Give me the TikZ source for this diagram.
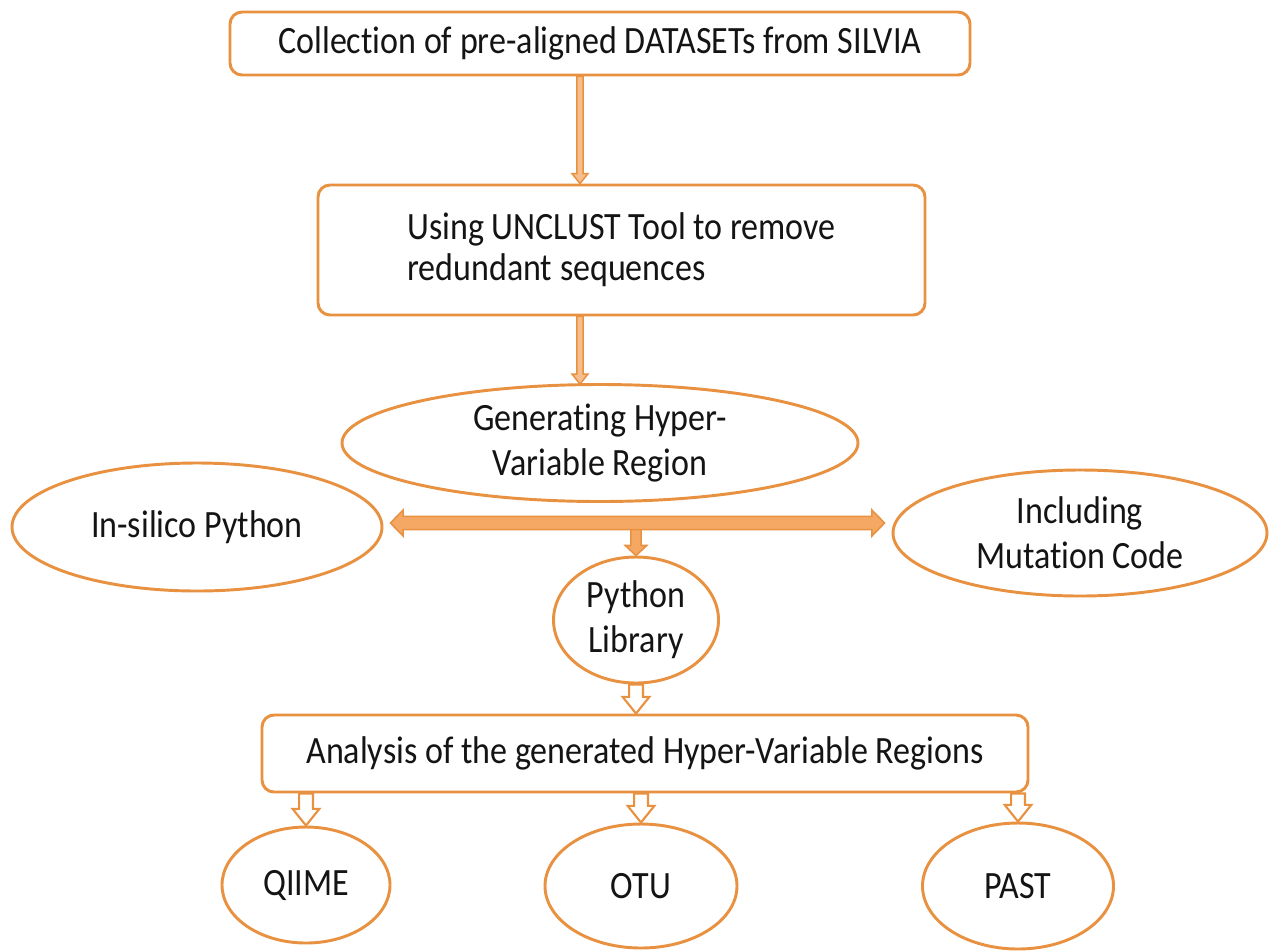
\documentclass[tikz,border=0pt]{standalone}
\usepackage{fontspec}
\setmainfont{Carlito}[FakeStretch=0.88, Ligatures=NoCommon]
\usetikzlibrary{calc,shapes.geometric}
\definecolor{orc}{RGB}{232,145,64}
\definecolor{orfill}{RGB}{245,168,100}
\definecolor{orlight}{RGB}{246,190,140}
\definecolor{txt}{RGB}{20,20,20}
\tikzset{
  box/.style={draw=orc, line width=2.2pt, rounded corners=9pt, fill=white, text=txt,
    font=\fontsize{29}{33}\selectfont, inner sep=0pt, align=center},
  ell/.style={ellipse, draw=orc, line width=2.2pt, fill=white, text=txt,
    font=\fontsize{29}{34}\selectfont, inner sep=0pt, align=center},
  downarrow/.style n args={3}{to path={let \p1=(\tikztostart),\p2=(\tikztotarget) in
    (\x1-#1,\y1) -- (\x1-#1,\y2+#3) -- (\x1-#2,\y2+#3) -- (\x1,\y2) --
    (\x1+#2,\y2+#3) -- (\x1+#1,\y2+#3) -- (\x1+#1,\y1) -- cycle}},
  hdouble/.style n args={3}{to path={let \p1=(\tikztostart),\p2=(\tikztotarget) in
    (\x1,\y1) -- (\x1+#3,\y1+#2) -- (\x1+#3,\y1+#1) -- (\x2-#3,\y1+#1) --
    (\x2-#3,\y1+#2) -- (\x2,\y1) -- (\x2-#3,\y1-#2) -- (\x2-#3,\y1-#1) --
    (\x1+#3,\y1-#1) -- (\x1+#3,\y1-#2) -- cycle}},
  thinarrow/.style={draw=orc, line width=1.1pt, fill=orlight, line join=miter,
    downarrow={2.4pt}{6pt}{7.5pt}},
  hollowarrow/.style={draw=orc, line width=1.6pt, fill=white, line join=miter,
    downarrow={5.2pt}{10pt}{12.5pt}},
  filledarrow/.style={draw=orc, line width=1.2pt, fill=orfill, line join=miter,
    downarrow={3.8pt}{8pt}{7.5pt}},
  bigarrow/.style={draw=orc, line width=1.2pt, fill=orfill, line join=miter,
    hdouble={5pt}{9.75pt}{9.5pt}},
}
\begin{document}
\begin{tikzpicture}[x=0.75pt,y=-0.75pt]
\useasboundingbox (0,0) rectangle (1277,951);

\node[box, minimum width=555pt, minimum height=47.25pt] (b1) at (600,43.5)
  {Collection of pre-aligned DATASETs from SILVIA};
\node[box, minimum width=455.25pt, minimum height=97.5pt, align=left,
  font=\fontsize{29}{31}\selectfont] (b2) at (621.5,250)
  {Using UNCLUST Tool to remove\\redundant sequences};
\node[ell, minimum width=387pt, minimum height=87.75pt] (g) at (600,443)
  {Generating Hyper-\\Variable Region};
\node[ell, minimum width=277.5pt, minimum height=96pt] (l) at (197,527)
  {In-silico Python};
\node[ell, minimum width=280.5pt, minimum height=94.5pt] (r) at (1080,533)
  {Including\\Mutation Code};
\node[ell, minimum width=123.75pt, minimum height=94.5pt] (p) at (636,620)
  {Python\\Library};
\node[box, minimum width=574.5pt, minimum height=57.75pt] (b3) at (645,753.5)
  {Analysis of the generated Hyper-Variable Regions};
\node[ell, minimum width=126pt, minimum height=87pt] (q) at (306,885) {QIIME};
\node[ell, minimum width=144pt, minimum height=93pt] (o) at (641,886) {OTU};
\node[ell, minimum width=143.25pt, minimum height=94.5pt] (s) at (1018,886) {PAST};

\coordinate (ax) at (580,0);
\coordinate (hm) at (636,523);

\draw[thinarrow] (b1.south -| ax) to (b2.north -| ax);
\draw[thinarrow] (b2.south -| ax) to ($(g.north -| ax)+(0,1)$);

\draw[filledarrow] (hm) to (p.north);
\draw[bigarrow] ($(l.east |- hm)+(7,0)$) to ($(r.west |- hm)+(-7,0)$);

\draw[hollowarrow] (p.south) to (b3.north -| p.south);
\draw[hollowarrow] (b3.south -| q.north) to (q.north);
\draw[hollowarrow] (b3.south -| o.north) to (o.north);
\draw[hollowarrow] (b3.south -| s.north) to (s.north);
\end{tikzpicture}
\end{document}
